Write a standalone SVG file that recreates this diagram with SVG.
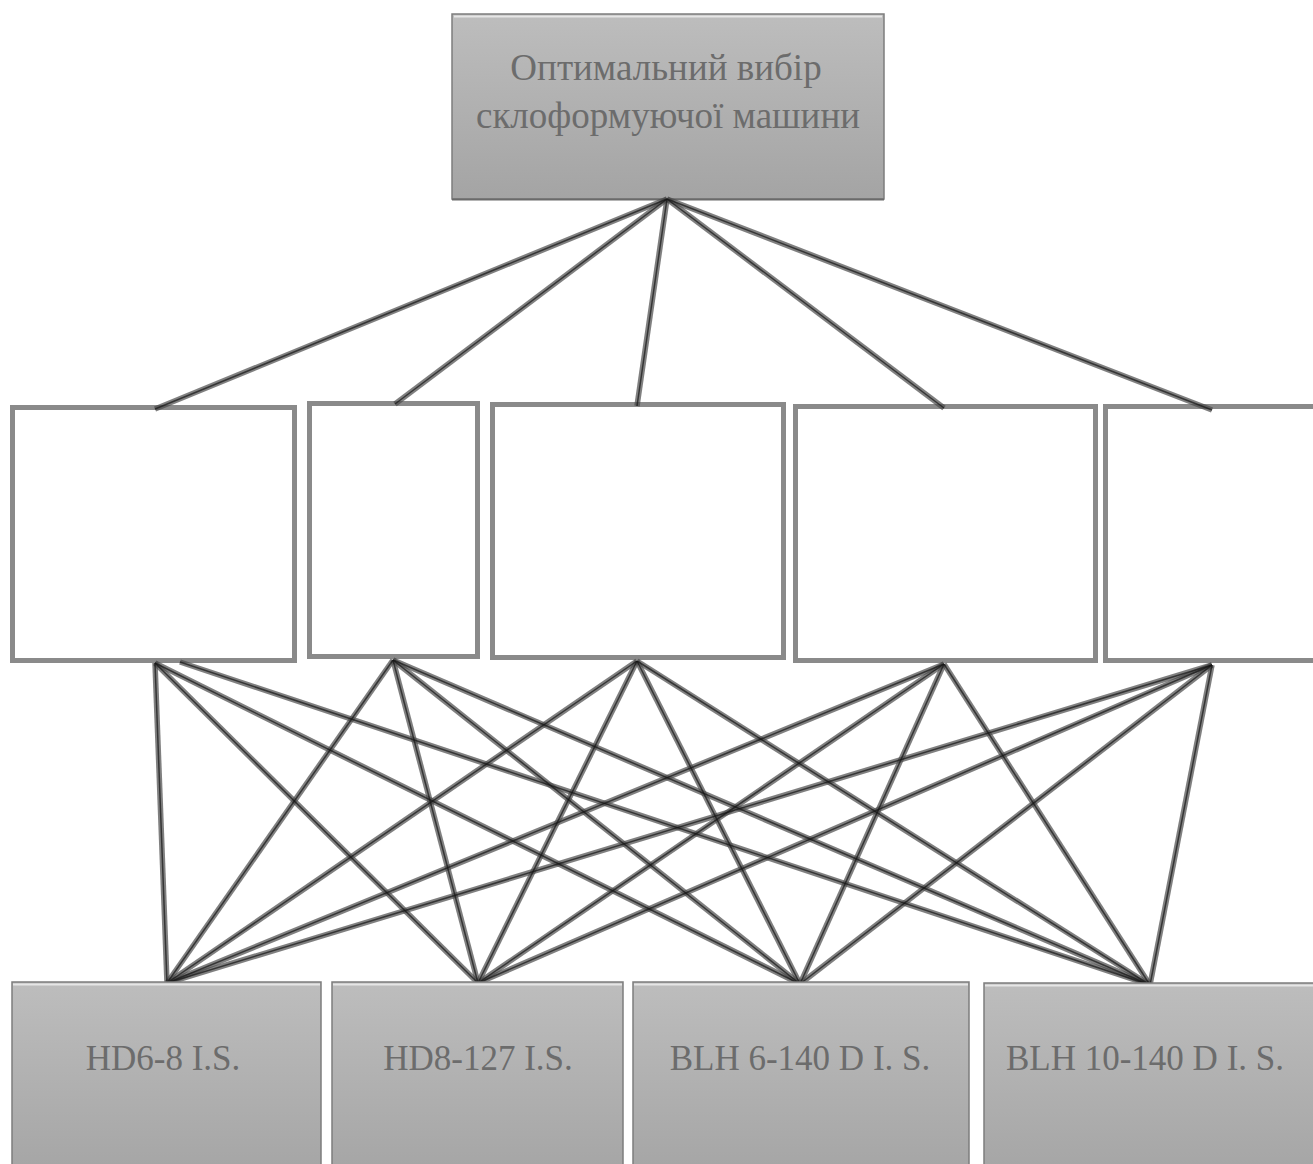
<svg xmlns="http://www.w3.org/2000/svg" xmlns:xlink="http://www.w3.org/1999/xlink" width="1313" height="1164" viewBox="0 0 1313 1164">
  <style>
    .grey-box { fill: url(#boxFill); stroke: #7d7d7d; stroke-width: 1.5; }
    .shine { stroke: #e6e6e6; stroke-width: 2; }
    .empty-box { fill: #ffffff; stroke: #8a8a8a; stroke-width: 5; }
    .label { font-family: "Liberation Serif", "Times New Roman", serif; font-size: 35px; fill: #6c6c6c; text-anchor: middle; }
    .goal-label { font-size: 37px; }
    .band { stroke: #4a4a4a; stroke-opacity: 0.7; stroke-width: 5.5; fill: none; }
    .core { stroke: #151515; stroke-opacity: 0.7; stroke-width: 1.5; fill: none; }
  </style>
  <defs>
    <linearGradient id="boxFill" x1="0" y1="0" x2="0" y2="1">
      <stop offset="0" stop-color="#bdbdbd"/>
      <stop offset="1" stop-color="#a4a4a4"/>
    </linearGradient>
    <!-- every link drawn once; painted twice below (soft band + dark core) -->
    <g id="links">
      <!-- goal to criteria -->
      <line x1="667" y1="199" x2="155" y2="409"/>
      <line x1="667" y1="199" x2="395" y2="404"/>
      <line x1="667" y1="199" x2="637" y2="406"/>
      <line x1="667" y1="199" x2="944" y2="408"/>
      <line x1="667" y1="199" x2="1212" y2="410"/>
      <!-- criterion 1 to alternatives -->
      <line x1="155" y1="663" x2="167" y2="983"/>
      <line x1="155" y1="663" x2="478" y2="983"/>
      <line x1="155" y1="663" x2="800" y2="984"/>
      <line x1="180" y1="662" x2="1150" y2="985"/>
      <!-- criterion 2 -->
      <line x1="393" y1="660" x2="167" y2="983"/>
      <line x1="393" y1="660" x2="478" y2="983"/>
      <line x1="393" y1="660" x2="800" y2="984"/>
      <line x1="393" y1="660" x2="1150" y2="985"/>
      <!-- criterion 3 -->
      <line x1="637" y1="661" x2="167" y2="983"/>
      <line x1="637" y1="661" x2="478" y2="983"/>
      <line x1="637" y1="661" x2="800" y2="984"/>
      <line x1="637" y1="661" x2="1150" y2="985"/>
      <!-- criterion 4 -->
      <line x1="944" y1="664" x2="167" y2="983"/>
      <line x1="944" y1="664" x2="478" y2="983"/>
      <line x1="944" y1="664" x2="800" y2="984"/>
      <line x1="944" y1="664" x2="1150" y2="985"/>
      <!-- criterion 5 -->
      <line x1="1212" y1="665" x2="167" y2="983"/>
      <line x1="1212" y1="665" x2="478" y2="983"/>
      <line x1="1212" y1="665" x2="800" y2="984"/>
      <line x1="1212" y1="665" x2="1150" y2="985"/>
    </g>
  </defs>

  <rect width="1313" height="1164" fill="#ffffff"/>

  <!-- goal -->
  <g id="goal">
    <rect class="grey-box" x="452" y="14" width="432" height="185"/>
    <line class="shine" x1="454" y1="16.5" x2="882" y2="16.5"/>
    <line x1="452" y1="199.5" x2="884" y2="199.5" stroke="#6a6a6a" stroke-width="2"/>
    <text class="label goal-label" x="666" y="80">Оптимальний вибір</text>
    <text class="label goal-label" x="668" y="128">склоформуючої машини</text>
  </g>

  <!-- criteria (empty) -->
  <g id="criterion-1"><rect class="empty-box" x="12.5" y="407.5" width="282" height="253"/></g>
  <g id="criterion-2"><rect class="empty-box" x="309.5" y="403.5" width="168" height="253"/></g>
  <g id="criterion-3"><rect class="empty-box" x="492.5" y="404.5" width="291" height="253"/></g>
  <g id="criterion-4"><rect class="empty-box" x="795.5" y="406.5" width="300" height="254"/></g>
  <g id="criterion-5"><rect class="empty-box" x="1105.5" y="406.5" width="230" height="254"/></g>

  <!-- connectors -->
  <g id="connectors">
    <use xlink:href="#links" class="band"/>
    <use xlink:href="#links" class="core"/>
  </g>

  <!-- alternatives -->
  <g id="alt-hd6-8">
    <rect class="grey-box" x="12" y="982" width="309" height="200"/>
    <line class="shine" x1="13" y1="984.5" x2="320" y2="984.5"/>
    <text class="label" x="163" y="1070">HD6-8 I.S.</text>
  </g>
  <g id="alt-hd8-127">
    <rect class="grey-box" x="332" y="982" width="291" height="200"/>
    <line class="shine" x1="333" y1="984.5" x2="622" y2="984.5"/>
    <text class="label" x="478" y="1070">HD8-127 I.S.</text>
  </g>
  <g id="alt-blh6-140">
    <rect class="grey-box" x="633" y="982" width="336" height="200"/>
    <line class="shine" x1="634" y1="984.5" x2="968" y2="984.5"/>
    <text class="label" x="800" y="1070">BLH 6-140 D I. S.</text>
  </g>
  <g id="alt-blh10-140">
    <rect class="grey-box" x="984" y="983" width="340" height="200"/>
    <line class="shine" x1="985" y1="985.5" x2="1313" y2="985.5"/>
    <text class="label" x="1145" y="1070">BLH 10-140 D I. S.</text>
  </g>
</svg>
